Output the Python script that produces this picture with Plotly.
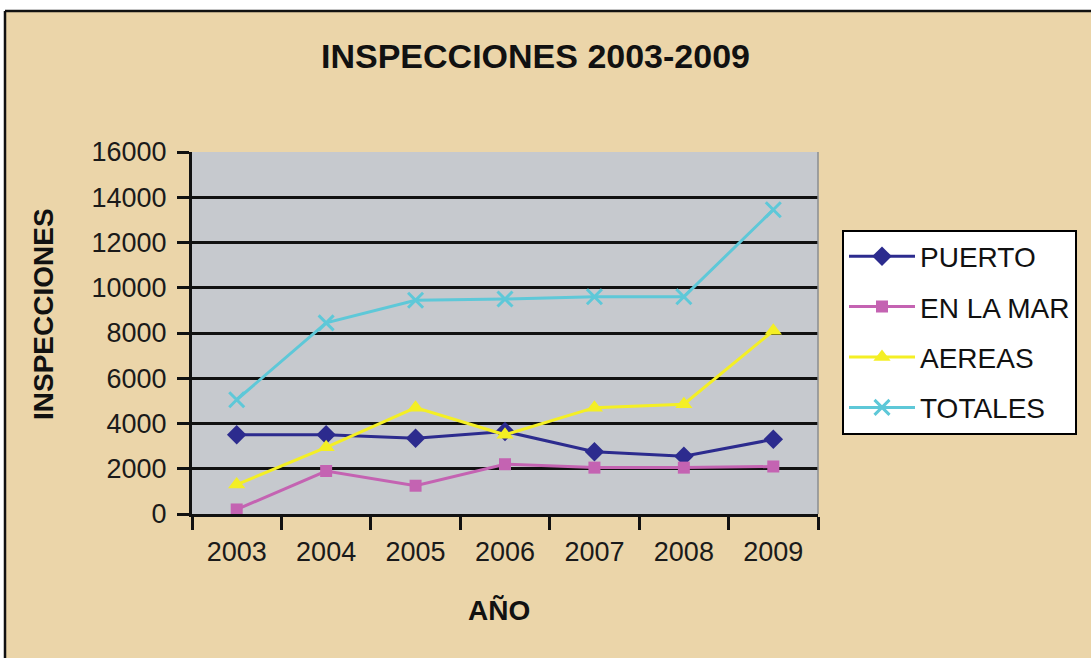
import plotly.graph_objects as go

years = ["2003", "2004", "2005", "2006", "2007", "2008", "2009"]
puerto = [3500, 3500, 3350, 3650, 2750, 2550, 3300]
en_la_mar = [200, 1900, 1250, 2200, 2050, 2050, 2100]
aereas = [1300, 2950, 4700, 3500, 4700, 4850, 8100]
totales = [5050, 8450, 9450, 9500, 9600, 9600, 13450]
y_ticks = [0, 2000, 4000, 6000, 8000, 10000, 12000, 14000, 16000]

W, H = 1091, 658
L, R, T, B = 192, 273, 152, 144
PW, PH = W - L - R, H - T - B


def px(x):
    return (x - L) / PW


def py(y):
    return (H - B - y) / PH


FONT = "Liberation Sans, Arial, sans-serif"

series = [
    ("PUERTO", puerto, "#2c2b8e", "diamond", 15),
    ("EN LA MAR", en_la_mar, "#c463b2", "square", 12),
    ("AEREAS", aereas, "#f4ef24", "triangle-up", 15),
    ("TOTALES", totales, "#5ec8d8", "x-thin", 15),
]

fig = go.Figure()
for i, (name, vals, color, sym, size) in enumerate(series):
    marker = dict(symbol=sym, size=size, color=color)
    if sym == "x-thin":
        marker["line"] = dict(color=color, width=3)
    fig.add_trace(go.Scatter(
        x=years, y=vals, name=name, mode="lines+markers",
        line=dict(color=color, width=3),
        marker=marker,
        legendgroup=f"g{i}",
    ))

fig.update_layout(
    width=W, height=H, autosize=False,
    margin=dict(l=L, r=R, t=T, b=B, autoexpand=False),
    paper_bgcolor="#ebd5a9",
    plot_bgcolor="#c6c9ce",
    font=dict(family=FONT, color="#1a1a1a"),
    showlegend=True,
    legend=dict(
        x=px(842), y=py(332), xanchor="left", yanchor="middle",
        bgcolor="white", bordercolor="black", borderwidth=2,
        font=dict(family=FONT, size=28, color="#111"),
        tracegroupgap=11, itemwidth=66,
    ),
    xaxis=dict(
        type="category", range=[-0.5, len(years) - 0.5],
        tickson="boundaries", ticks="outside",
        ticklen=13, tickwidth=2.5, tickcolor="#111",
        showline=True, linecolor="#111", linewidth=3,
        showgrid=False, tickfont=dict(size=27, family=FONT, color="#1a1a1a"),
        ticklabelstandoff=12,
    ),
    yaxis=dict(
        range=[0, 16000], tickvals=y_ticks, tickformat="d", ticks="outside",
        ticklen=12, tickwidth=2.5, tickcolor="#111",
        showline=True, linecolor="#111", linewidth=3,
        showgrid=True, gridcolor="#111", gridwidth=2.5,
        zeroline=False,
        tickfont=dict(size=27, family=FONT, color="#1a1a1a"),
        ticklabelstandoff=5,
    ),
    annotations=[
        dict(text="<b>INSPECCIONES 2003-2009</b>", x=px(535), y=py(56),
             xref="paper", yref="paper", showarrow=False,
             xanchor="center", yanchor="middle",
             font=dict(family=FONT, size=34, color="#111")),
        dict(text="<b>INSPECCIONES</b>", x=px(43), y=py(314), textangle=-90,
             xref="paper", yref="paper", showarrow=False,
             xanchor="center", yanchor="middle",
             font=dict(family=FONT, size=28, color="#111")),
        dict(text="<b>AÑO</b>", x=px(499), y=py(610),
             xref="paper", yref="paper", showarrow=False,
             xanchor="center", yanchor="middle",
             font=dict(family=FONT, size=28, color="#111")),
    ],
    shapes=[
        dict(type="rect", xref="paper", yref="paper",
             x0=px(-5), x1=px(W + 5), y0=py(11), y1=py(-5),
             fillcolor="white", line=dict(width=0), layer="above"),
        dict(type="rect", xref="paper", yref="paper",
             x0=px(-5), x1=px(5), y0=py(H + 5), y1=py(11),
             fillcolor="white", line=dict(width=0), layer="above"),
        dict(type="line", xref="paper", yref="paper",
             x0=px(5), x1=px(W + 5), y0=py(11), y1=py(11),
             line=dict(color="#111", width=2.5), layer="above"),
        dict(type="line", xref="paper", yref="paper",
             x0=px(5), x1=px(5), y0=py(11), y1=py(H + 5),
             line=dict(color="#111", width=2.5), layer="above"),
        dict(type="line", xref="paper", yref="paper",
             x0=1, x1=1, y0=0, y1=1,
             line=dict(color="#8a8c90", width=1.5), layer="above"),
    ],
)

fig.write_html(
    "out.html",
    config={"displayModeBar": False},
    post_script="document.body.style.margin='0';document.body.style.overflow='hidden';",
)
